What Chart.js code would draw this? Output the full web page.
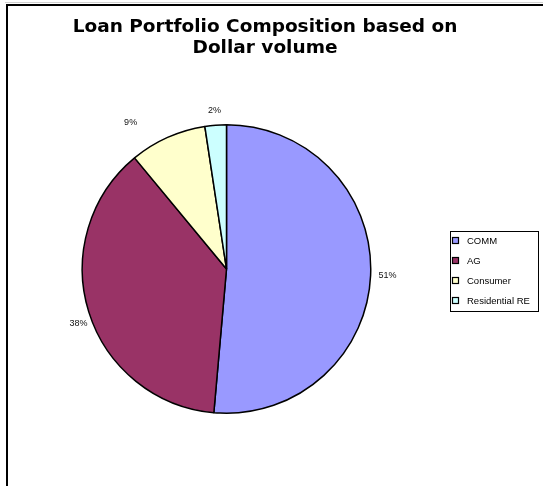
<!DOCTYPE html>
<html>
<head>
<meta charset="utf-8">
<script src="https://cdn.jsdelivr.net/npm/chart.js@4.4.0/dist/chart.umd.min.js"></script>
<style>
  html, body { margin: 0; padding: 0; background: #fff; }
  canvas { display: block; }
</style>
</head>
<body>
<canvas id="grafica" width="543" height="486"></canvas>
<script>
// --- Datos ---
const categorias = ['COMM', 'AG', 'Consumer', 'Residential RE'];
const porcentajes = [51.4, 37.6, 8.6, 2.4];
const colores = ['#9999FF', '#993366', '#FFFFCC', '#CCFFFF'];
const titulo = ['Loan Portfolio Composition based on', 'Dollar volume'];

// --- Marco exterior ---
const marco = {
  id: 'marco',
  beforeDraw(chart) {
    const ctx = chart.ctx;
    ctx.save();
    ctx.fillStyle = '#fff';
    ctx.fillRect(0, 0, chart.width, chart.height);
    ctx.strokeStyle = '#d0d0d0';
    ctx.lineWidth = 1;
    ctx.beginPath();
    ctx.moveTo(5, 2.5); ctx.lineTo(chart.width, 2.5);
    ctx.stroke();
    ctx.strokeStyle = '#000';
    ctx.lineWidth = 2;
    ctx.strokeRect(7, 5, chart.width + 20, chart.height + 20);
    ctx.restore();
  }
};

// --- Area del pastel (a la izquierda de la leyenda) ---
const areaPastel = {
  id: 'areaPastel',
  afterLayout(chart) {
    const a = chart.chartArea;
    a.left = 81.5; a.right = 371.5;
    a.top = 124; a.bottom = 414;
    a.width = a.right - a.left;
    a.height = a.bottom - a.top;
  }
};

// --- Etiquetas de porcentaje fuera del pastel ---
// ajustes a mano para imitar la colocacion de Excel
const ajustes = [[0, 0], [6, 8], [-31, -4], [0, -3]];

const etiquetas = {
  id: 'etiquetas',
  afterDatasetsDraw(chart) {
    const ctx = chart.ctx;
    const meta = chart.getDatasetMeta(0);
    const total = porcentajes.reduce((s, v) => s + v, 0);
    ctx.save();
    ctx.font = '9px "Liberation Sans", Arial, sans-serif';
    ctx.fillStyle = '#111';
    ctx.textAlign = 'center';
    ctx.textBaseline = 'middle';
    meta.data.forEach((arc, i) => {
      const p = arc.getProps(['x', 'y', 'startAngle', 'endAngle', 'outerRadius'], true);
      const medio = (p.startAngle + p.endAngle) / 2;
      const dx = Math.cos(medio), dy = Math.sin(medio);
      const texto = Math.round(porcentajes[i] / total * 100) + '%';
      const w = ctx.measureText(texto).width;
      const h = 8;
      const r = p.outerRadius + 8;
      const x = p.x + dx * r + dx * w / 2 + ajustes[i][0];
      const y = p.y + dy * r + dy * h / 2 + ajustes[i][1];
      ctx.fillText(texto, x, y);
    });
    ctx.restore();
  }
};

// --- Leyenda con recuadro ---
const leyenda = {
  id: 'leyenda',
  afterDraw(chart) {
    const ctx = chart.ctx;
    ctx.save();
    ctx.strokeStyle = '#000';
    ctx.lineWidth = 1;
    ctx.strokeRect(450.5, 231.5, 88, 80);
    ctx.font = '9.5px "Liberation Sans", Arial, sans-serif';
    ctx.textBaseline = 'middle';
    categorias.forEach((cat, i) => {
      const y = 241 + i * 20;
      ctx.fillStyle = colores[i];
      ctx.fillRect(453, y - 3, 5, 5);
      ctx.strokeStyle = '#000';
      ctx.lineWidth = 1.2;
      ctx.strokeRect(452.5, y - 3.5, 6, 6);
      ctx.fillStyle = '#000';
      ctx.fillText(cat, 467, y);
    });
    ctx.restore();
  }
};

new Chart(document.getElementById('grafica'), {
  type: 'pie',
  data: {
    labels: categorias,
    datasets: [{
      data: porcentajes,
      backgroundColor: colores,
      borderColor: '#000',
      borderWidth: 1.5
    }]
  },
  options: {
    responsive: false,
    animation: false,
    layout: { padding: { left: 0, right: 13, top: 0, bottom: 0 } },
    plugins: {
      legend: { display: false },
      tooltip: { enabled: false },
      title: {
        display: true,
        text: titulo,
        color: '#000',
        font: { family: '"DejaVu Sans", sans-serif', size: 18.5, weight: 'bold', lineHeight: 1.135 },
        padding: { top: 16.5, bottom: 10 }
      }
    }
  },
  plugins: [marco, areaPastel, etiquetas, leyenda]
});
</script>
</body>
</html>
